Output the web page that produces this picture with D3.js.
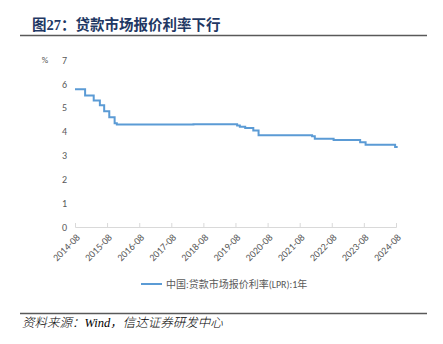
<!DOCTYPE html>
<html>
<head>
<meta charset="utf-8">
<script src="https://cdn.jsdelivr.net/npm/d3@7/dist/d3.min.js"></script>
<style>
  html, body { margin: 0; padding: 0; background: #fff; }
  svg { display: block; }
</style>
</head>
<body>
<svg id="chart" width="443" height="344"></svg>
<script>
// LPR (1-year) change points: date of change and the rate that holds from then on
const changeDates = [
  "2014-08-01", "2014-11-24", "2015-03-02", "2015-05-11", "2015-06-29",
  "2015-08-26", "2015-10-26", "2015-11-20", "2018-04-10", "2019-08-20",
  "2019-09-20", "2019-11-20", "2020-02-20", "2020-04-20", "2021-12-20",
  "2022-01-20", "2022-08-22", "2023-06-20", "2023-08-21", "2024-07-22",
  "2024-08-20"
];
const rates = [
  5.77, 5.51, 5.30, 5.10, 4.85,
  4.60, 4.35, 4.30, 4.31, 4.25,
  4.20, 4.15, 4.05, 3.85, 3.80,
  3.70, 3.65, 3.55, 3.45, 3.35,
  3.35
];
const xTickLabels = ["2014-08", "2015-08", "2016-08", "2017-08", "2018-08", "2019-08",
                     "2020-08", "2021-08", "2022-08", "2023-08", "2024-08"];
const yTicks = [0, 1, 2, 3, 4, 5, 6, 7];
const titleText = "图27：贷款市场报价利率下行";
const legendText = "中国:贷款市场报价利率(LPR):1年";
const sourceText = "资料来源：Wind，信达证券研发中心";

const parse = d3.timeParse("%Y-%m-%d");
const parseTick = d3.timeParse("%Y-%m");
const series = changeDates.map((d, i) => ({ date: parse(d), value: rates[i] }));
const tickDates = xTickLabels.map(parseTick);

const svg = d3.select("#chart");
const labelColor = "#595959";
const lineColor = "#5b9bd5";
const cjk = "'Liberation Serif', 'Noto Sans CJK SC', serif";
const sans = "Calibri, 'Carlito', 'Noto Sans CJK SC', 'Liberation Sans', sans-serif";

// Header
svg.append("text")
  .attr("x", 32).attr("y", 30)
  .attr("font-family", cjk)
  .attr("font-weight", "bold")
  .attr("font-size", 14.5)
  .attr("fill", "#1f3864")
  .text(titleText);
svg.append("line")
  .attr("x1", 20).attr("x2", 427).attr("y1", 35.5).attr("y2", 35.5)
  .attr("stroke", "#595959").attr("stroke-width", 1.6);

// Scales
const x = d3.scaleTime()
  .domain([tickDates[0], tickDates[tickDates.length - 1]])
  .range([75, 396]);
const y = d3.scaleLinear().domain([0, 7]).range([227, 60]);

// X axis: light baseline with small upward ticks
const xAxis = d3.axisBottom(x)
  .tickValues(tickDates)
  .tickSize(-4)
  .tickFormat(d3.timeFormat("%Y-%m"));
const gx = svg.append("g").attr("transform", `translate(0,${y(0)})`).call(xAxis);
gx.select(".domain").attr("stroke", "#d9d9d9");
gx.selectAll(".tick line").attr("stroke", "#d9d9d9");
gx.selectAll(".tick text")
  .attr("font-family", sans)
  .attr("font-size", 10)
  .attr("fill", labelColor)
  .attr("text-anchor", "end")
  .attr("dy", 0)
  .attr("transform", "translate(3,9) rotate(-45)");

// Y axis: labels only
const yAxis = d3.axisLeft(y).tickValues(yTicks).tickSize(0).tickPadding(0)
  .tickFormat(d3.format("d"));
const gy = svg.append("g").attr("transform", "translate(67,0)").call(yAxis);
gy.select(".domain").remove();
gy.selectAll(".tick text")
  .attr("font-family", sans)
  .attr("font-size", 10)
  .attr("fill", labelColor);

svg.append("text")
  .attr("x", 45).attr("y", y(7))
  .attr("dy", "0.32em")
  .attr("text-anchor", "middle")
  .attr("font-family", sans)
  .attr("font-size", 9)
  .attr("fill", labelColor)
  .text("%");

// Rate line
const line = d3.line()
  .x(d => x(d.date))
  .y(d => y(d.value))
  .curve(d3.curveStepAfter);
svg.append("path")
  .datum(series)
  .attr("d", line)
  .attr("fill", "none")
  .attr("stroke", lineColor)
  .attr("stroke-width", 2);

// Legend
svg.append("line")
  .attr("x1", 141).attr("x2", 162).attr("y1", 284).attr("y2", 284)
  .attr("stroke", lineColor).attr("stroke-width", 2);
svg.append("text")
  .attr("x", 166).attr("y", 284)
  .attr("dy", "0.35em")
  .attr("font-family", sans)
  .attr("font-size", 10)
  .attr("fill", labelColor)
  .text(legendText);

// Footer
svg.append("line")
  .attr("x1", 20).attr("x2", 427).attr("y1", 313.5).attr("y2", 313.5)
  .attr("stroke", "#595959").attr("stroke-width", 1.6);
svg.append("text")
  .attr("x", 22).attr("y", 327)
  .attr("font-family", cjk)
  .attr("font-style", "italic")
  .attr("font-weight", 300)
  .attr("font-size", 12.5)
  .attr("fill", "#000")
  .text(sourceText);
</script>
</body>
</html>
